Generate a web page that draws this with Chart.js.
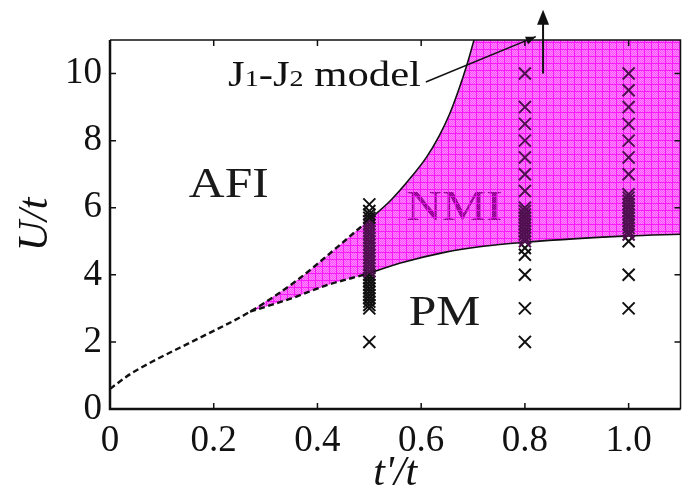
<!DOCTYPE html>
<html>
<head>
<meta charset="utf-8">
<script src="https://cdn.jsdelivr.net/npm/chart.js@4.4.1/dist/chart.umd.min.js"></script>
<style>
  html, body { margin: 0; padding: 0; background: #fff; }
  canvas { display: block; }
</style>
</head>
<body>
<canvas id="chart" width="691" height="492"></canvas>
<script>
// AFI / NMI boundary (t'/t, U/t); below splitX both boundaries coincide
var upperX = [0, 0.04, 0.08, 0.17, 0.27, 0.36, 0.44, 0.50, 0.54, 0.58, 0.61, 0.635, 0.655, 0.672, 0.687, 0.70, 0.712];
var upperU = [0.6, 1.05, 1.4, 2.1, 2.9, 3.83, 4.85, 5.65, 6.2, 6.9, 7.5, 8.15, 8.8, 9.5, 10.2, 10.9, 11.6];
// NMI / PM boundary
var lowerX = [0.27, 0.35, 0.42, 0.50, 0.56, 0.645, 0.72, 0.80, 0.90, 1.0, 1.1];
var lowerU = [2.9, 3.3, 3.7, 4.05, 4.35, 4.67, 4.85, 4.97, 5.08, 5.16, 5.21];
var splitX = 0.27;
var dashedBelow = 0.5;   // extrapolated part of both boundaries
var fillCorner = [1.1, 11.6];

// computed points (crosses)
var crossX = [0.5, 0.8, 1.0];
var crossU050 = [2.0, 3.0, 3.1, 3.2, 3.3, 3.4, 3.5, 3.6, 3.7, 3.8, 3.9, 4.0, 4.1, 4.2, 4.3, 4.4,
                 4.5, 4.6, 4.7, 4.8, 4.9, 5.0, 5.1, 5.2, 5.3, 5.4, 5.5, 5.6, 5.7, 5.8, 5.9, 6.1];
var crossU080 = [2.0, 3.0, 4.0, 4.6, 4.8, 5.0, 5.1, 5.2, 5.3, 5.4, 5.5, 5.6, 5.7, 5.8, 5.9, 6.0,
                 6.5, 7.0, 7.5, 8.0, 8.5, 9.0, 10.0];
var crossU100 = [3.0, 4.0, 5.0, 5.2, 5.3, 5.4, 5.5, 5.6, 5.7, 5.8, 5.9, 6.0, 6.1, 6.2, 6.3, 6.4,
                 7.0, 7.5, 8.0, 8.5, 9.0, 9.5, 10.0];

var xTicks = [0, 0.2, 0.4, 0.6, 0.8, 1.0];
var xTickLabels = ['0', '0.2', '0.4', '0.6', '0.8', '1.0'];
var yTicks = [0, 2, 4, 6, 8, 10];
var yTickLabels = ['0', '2', '4', '6', '8', '10'];

// phase labels and the J1-J2 pointer, in data coordinates
var phaseLabels = [
  { text: 'AFI', x: 0.229, y: 6.64 },
  { text: 'NMI', x: 0.664, y: 5.96 },
  { text: 'PM',  x: 0.645, y: 2.83 }
];
var modelLabelAt = [0.2276, 9.63];
var modelPointer = [[0.609, 9.75], [0.821, 11.1]];
var modelArrow = [[0.835, 10.0], [0.835, 11.9]];

var SERIF = '"Liberation Serif", "Times New Roman", serif';

function pts(xs, ys) {
  return xs.map(function(x, i) { return { x: x, y: ys[i] }; });
}
function column(x, us) {
  return us.map(function(u) { return { x: x, y: u }; });
}
// piecewise-linear lookup along a boundary
function interp(xs, ys, x) {
  if (x <= xs[0]) return ys[0];
  for (var i = 1; i < xs.length; i++) {
    if (x <= xs[i]) return ys[i - 1] + (ys[i] - ys[i - 1]) * (x - xs[i - 1]) / (xs[i] - xs[i - 1]);
  }
  return ys[ys.length - 1];
}
function insideNMI(p) {
  return p.x >= splitX && p.y > interp(lowerX, lowerU, p.x) && p.y < interp(upperX, upperU, p.x);
}

// magenta grid texture of the NMI region
function makeHatch() {
  var c = document.createElement('canvas');
  c.width = 7; c.height = 7;
  var g = c.getContext('2d');
  for (var y = 0; y < 7; y++) {
    for (var x = 0; x < 7; x++) {
      var a;
      if (x === 0 || y === 0) a = 0.9;
      else a = (x + y) % 2 ? 0.7 : 0.45;
      g.fillStyle = 'rgba(250,0,250,' + a + ')';
      g.fillRect(x, y, 1, 1);
    }
  }
  return g.createPattern(c, 'repeat');
}

var upperPts = pts(upperX, upperU);
var lowerPts = pts(lowerX, lowerU);
var fillEdge = upperPts.filter(function(p) { return p.x >= splitX; })
  .concat([{ x: fillCorner[0], y: fillCorner[1] }]);

function boundary(data) {
  return {
    data: data, showLine: true, fill: false, pointRadius: 0,
    borderColor: '#111', borderWidth: 1.6, cubicInterpolationMode: 'monotone', order: 1,
    segment: {
      borderDash: function(ctx) { return ctx.p1.parsed.x <= dashedBelow + 1e-9 ? [6, 3.5] : undefined; },
      borderWidth: function(ctx) { return ctx.p1.parsed.x <= dashedBelow + 1e-9 ? 2.4 : 1.6; }
    }
  };
}
function crosses(data) {
  return {
    data: data, showLine: false, pointStyle: 'crossRot', pointRadius: 8.5,
    pointBorderWidth: 2, pointBackgroundColor: 'transparent', order: 0,
    // crosses inside the NMI texture print dark purple
    pointBorderColor: function(ctx) { return ctx.raw && insideNMI(ctx.raw) ? '#4e104e' : '#111'; }
  };
}

function toPx(chart, p) {
  return [chart.scales.x.getPixelForValue(p[0]), chart.scales.y.getPixelForValue(p[1])];
}
function arrowHead(ctx, a, b, len, half) {
  var ang = Math.atan2(b[1] - a[1], b[0] - a[0]);
  ctx.beginPath();
  ctx.moveTo(b[0], b[1]);
  ctx.lineTo(b[0] - len * Math.cos(ang) + half * Math.sin(ang), b[1] - len * Math.sin(ang) - half * Math.cos(ang));
  ctx.lineTo(b[0] - len * Math.cos(ang) - half * Math.sin(ang), b[1] - len * Math.sin(ang) + half * Math.cos(ang));
  ctx.closePath();
  ctx.fill();
}

var decorations = {
  id: 'decorations',
  // phase names go under the NMI texture
  beforeDatasetsDraw: function(chart) {
    var ctx = chart.ctx;
    ctx.save();
    ctx.fillStyle = '#1a1a1a';
    ctx.font = '42px ' + SERIF;
    ctx.textAlign = 'center';
    ctx.textBaseline = 'middle';
    phaseLabels.forEach(function(l) {
      var p = toPx(chart, [l.x, l.y]);
      ctx.save();
      ctx.translate(p[0], p[1]);
      ctx.scale(1.18, 1);
      ctx.fillText(l.text, 0, 0);
      ctx.restore();
    });
    ctx.restore();
  },
  afterDatasetsDraw: function(chart) {
    var ctx = chart.ctx, a = chart.chartArea;
    var sx = chart.scales.x, sy = chart.scales.y;
    ctx.save();
    ctx.strokeStyle = '#111';
    ctx.fillStyle = '#111';

    // frame, heavier on the left and bottom
    ctx.lineWidth = 1.5;
    ctx.beginPath();
    ctx.moveTo(a.left, a.top); ctx.lineTo(a.right, a.top); ctx.lineTo(a.right, a.bottom);
    ctx.stroke();
    ctx.lineWidth = 2.5;
    ctx.beginPath();
    ctx.moveTo(a.left, a.top); ctx.lineTo(a.left, a.bottom); ctx.lineTo(a.right, a.bottom);
    ctx.stroke();

    // inward ticks on all four sides
    ctx.lineWidth = 1.5;
    ctx.beginPath();
    xTicks.forEach(function(v) {
      var x = sx.getPixelForValue(v);
      ctx.moveTo(x, a.bottom); ctx.lineTo(x, a.bottom - 6);
      ctx.moveTo(x, a.top); ctx.lineTo(x, a.top + 6);
    });
    yTicks.forEach(function(v) {
      var y = sy.getPixelForValue(v);
      ctx.moveTo(a.left, y); ctx.lineTo(a.left + 6, y);
      ctx.moveTo(a.right, y); ctx.lineTo(a.right - 6, y);
    });
    ctx.stroke();

    // J1-J2 model label with subscripts
    var m = toPx(chart, modelLabelAt);
    ctx.save();
    ctx.translate(m[0], m[1]);
    ctx.scale(1.22, 1);
    ctx.textAlign = 'left';
    ctx.textBaseline = 'alphabetic';
    var cx = 0;
    [['J', 35], ['1', 23], ['-J', 35], ['2', 23], [' model', 35]].forEach(function(s) {
      ctx.font = s[1] + 'px ' + SERIF;
      ctx.fillText(s[0], cx, 0);
      cx += ctx.measureText(s[0]).width;
    });
    ctx.restore();

    // pointer from the label, and the U -> infinity arrow
    var p0 = toPx(chart, modelPointer[0]), p1 = toPx(chart, modelPointer[1]);
    ctx.lineWidth = 1.5;
    ctx.beginPath(); ctx.moveTo(p0[0], p0[1]); ctx.lineTo(p1[0], p1[1]); ctx.stroke();
    arrowHead(ctx, p0, p1, 10, 4);
    var q0 = toPx(chart, modelArrow[0]), q1 = toPx(chart, modelArrow[1]);
    ctx.lineWidth = 2;
    ctx.beginPath(); ctx.moveTo(q0[0], q0[1]); ctx.lineTo(q1[0], q1[1] + 10); ctx.stroke();
    arrowHead(ctx, q0, q1, 15, 6);
    ctx.restore();
  }
};

new Chart(document.getElementById('chart'), {
  type: 'scatter',
  data: {
    datasets: [
      crosses(column(crossX[0], crossU050)),
      crosses(column(crossX[1], crossU080)),
      crosses(column(crossX[2], crossU100)),
      {
        data: fillEdge, showLine: true, pointRadius: 0, borderWidth: 0,
        cubicInterpolationMode: 'monotone', backgroundColor: makeHatch(),
        fill: { target: 4 }, order: 2
      },
      boundary(lowerPts),
      boundary(upperPts)
    ]
  },
  options: {
    responsive: false,
    animation: false,
    layout: { padding: { top: 40, right: 1, left: 0, bottom: 0 } },
    plugins: { legend: { display: false }, tooltip: { enabled: false } },
    scales: {
      x: {
        type: 'linear', min: 0, max: 1.1,
        grid: { display: false, drawTicks: false }, border: { display: false },
        afterBuildTicks: function(s) { s.ticks = xTicks.map(function(v) { return { value: v }; }); },
        afterFit: function(s) { s.height = 83; },
        ticks: {
          padding: 10, color: '#111', maxRotation: 0, autoSkip: false,
          font: { family: SERIF, size: 37 },
          callback: function(v, i) { return xTickLabels[i]; }
        },
        title: {
          display: true, text: "t'/t", color: '#111',
          font: { family: SERIF, size: 42, style: 'italic', lineHeight: 0.85 },
          padding: { top: 0, bottom: 0 }
        }
      },
      y: {
        type: 'linear', min: 0, max: 11,
        grid: { display: false, drawTicks: false }, border: { display: false },
        afterBuildTicks: function(s) { s.ticks = yTicks.map(function(v) { return { value: v }; }); },
        afterFit: function(s) { s.width = 110; },
        ticks: {
          padding: 8, color: '#111', autoSkip: false,
          font: { family: SERIF, size: 37 },
          callback: function(v, i) { return yTickLabels[i]; }
        },
        title: {
          display: true, text: 'U/t', color: '#111',
          font: { family: SERIF, size: 42, style: 'italic', lineHeight: 1 },
          padding: { top: 15, bottom: 0 }
        }
      }
    }
  },
  plugins: [decorations]
});
</script>
</body>
</html>
